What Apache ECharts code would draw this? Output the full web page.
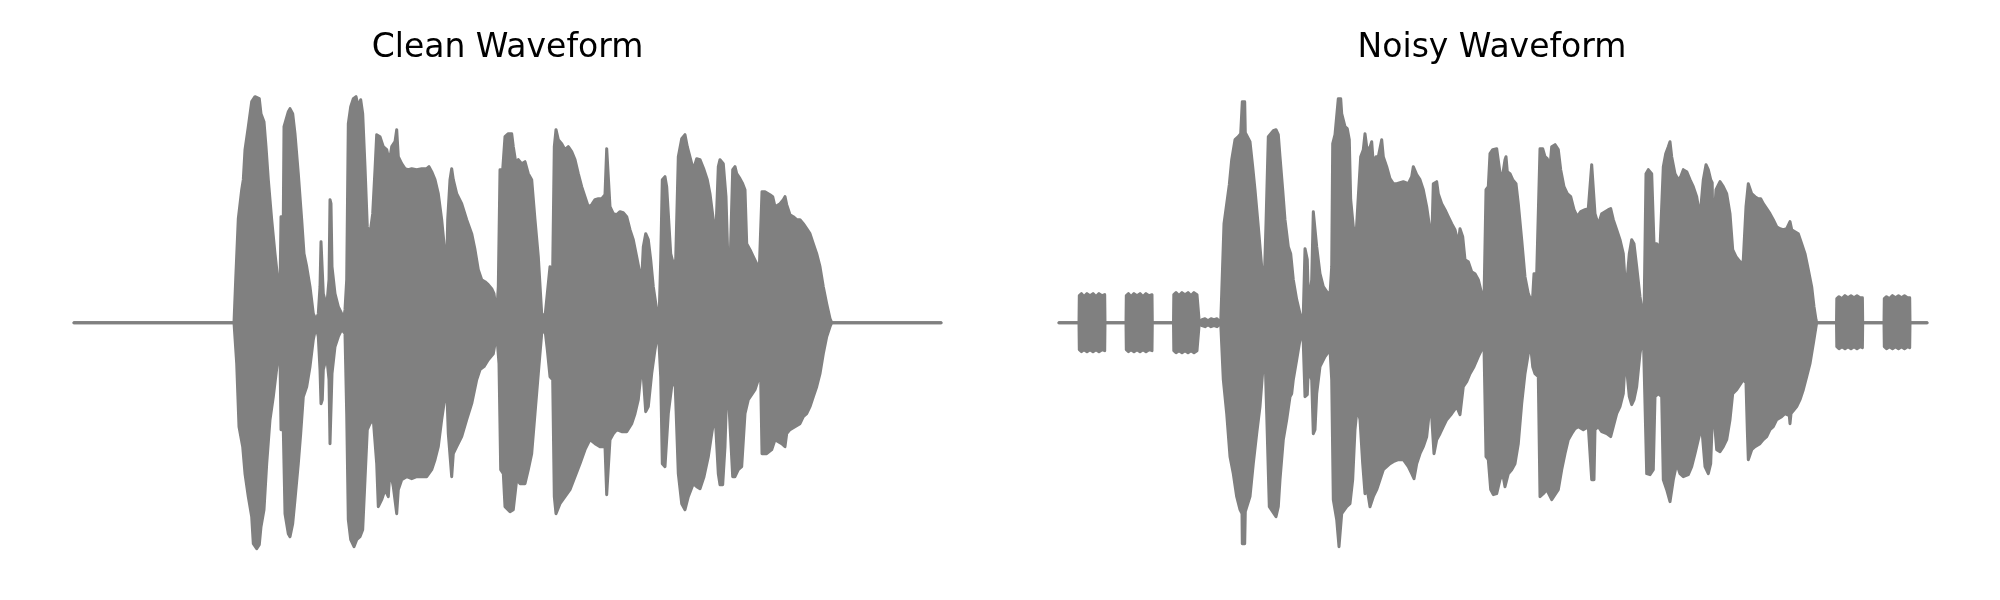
<!DOCTYPE html>
<html>
<head>
<meta charset="utf-8">
<script src="https://cdn.jsdelivr.net/npm/echarts@6/dist/echarts.min.js"></script>
<style>
  html, body { margin: 0; padding: 0; background: #ffffff; }
  #chart { width: 2000px; height: 600px; }
</style>
</head>
<body>
<div id="chart"></div>
<script>
// Panel titles
const titles = ["Clean Waveform", "Noisy Waveform"];

// Envelope of the clean waveform: [time index, amplitude] (arbitrary units)
const cleanUpper = [
[0,0],[160,0],[161.7,43],[164.3,104],[167.7,133],[169.3,143],[171,173],[174.3,196],[177.7,221],[181,226],[185.3,224],[187,209],[190,201],[192,176],[194.3,143],[197.7,103],[201,69],[204.3,39],[206,33],
[207,106],[209.3,106],[210,196],[214.3,211],[216,214],[218.7,209],[221,189],[224.3,149],[227.7,103],[230,69],[232.7,56],[236,36],[239.3,9],[242,3],[244.3,9],[246,36],[247,81],[248.3,79],[249.3,29],[252.7,16],[255,43],[256,123],[257,119],[258,56],[261,29],[264.3,16],[267.7,9],[270,6],[271,13],[272.7,43],[274.3,199],[276.7,216],[279.3,224],[282,226],[284.3,216],[286.7,223],[288.7,209],[291,156],[293.3,96],[296,89],[298.7,109],[301,153],[302.7,188],[306,186],[309.3,176],[312.7,173],[315.3,161],[317.7,176],[321,181],[322.7,193],[324.3,166],[327.7,159],[331,154],[334.3,153],[337.7,154],[342.7,153],[347.7,154],[352.7,154],[355,156],[357.7,151],[361,143],[364.3,129],[367.7,103],[371,69],[372.7,56],[373.7,103],[376,143],[377.7,154],[379.3,143],[382.7,129],[387.7,119],[392.7,103],[397.7,89],[401,73],[404.3,53],[407.7,43],[411,41],[414.3,38],[417.7,34],[420,29],[422.7,9],[424.3,36],[426,153],
[428.7,153],[431,186],[434.3,189],[437.7,189],[439.3,176],[442,159],[444.3,163],[447.7,159],[451,161],[454.3,149],[457.7,143],[461,103],[464.3,66],[467.7,9],[471,6],[473.3,29],[476,56],[478.7,53],[480.3,176],[482,193],[484.3,183],[487.7,179],[491,173],[494.3,176],[497.7,171],[501,163],[504.3,149],[507.7,136],[511,126],[514.3,116],[517.7,118],[521,123],[524.3,124],[527.7,124],[531,128],[532.7,174],[534.7,173],[536,116],[539.3,109],[542.7,108],[546,111],[549.3,110],[552.7,106],[556,93],[559.3,83],[562.7,66],[566,49],[567.7,43],[569.3,76],[571.7,89],[574.3,83],[576.7,63],[579.3,36],[582.7,13],[585,2],[586.7,63],[588.3,143],[591,146],[592.7,136],[594.3,109],[596.7,69],[599.3,59],[601.7,63],[604.3,166],[607.7,184],[611,188],[613.3,176],[616.7,163],[619.3,153],[622.7,164],[626,163],[630,153],[633.3,143],[636,129],[639.3,103],[642,93],[644.3,156],
[646,163],[649.3,159],[652,126],[654.3,49],[656,56],[658.7,153],[661,156],[662.7,149],[666,144],[668.7,139],[671,133],[672.7,79],[676,73],[679.3,66],[682.7,59],[685.3,54],[686.7,56],[688,131],[691,131],[696,128],[698.7,126],[701,116],[702.7,118],[706,119],[709.3,123],[711,126],[712.7,118],[716,108],[719.3,106],[722.7,103],[726,103],[729.3,99],[732.7,94],[736,89],[739.3,79],[742.7,69],[746,56],[749.3,36],[752.7,19],[756,4],[757.7,0],[867,0]
];

const cleanLower = [
[0,0],[160,0],[162.7,-41],[165,-104],[168.7,-124],[171,-151],[174.3,-174],[177.7,-194],[179.3,-221],[182.7,-226],[185.3,-222],[187,-204],[190,-187],[192.7,-141],[196,-97],[199.3,-74],[203.3,-41],[206,-34],
[207,-107],[209.3,-107],[211,-191],[214.3,-211],[216,-214],[218.7,-201],[221,-177],[224.3,-141],[226.7,-111],[229.3,-74],[232.7,-64],[236,-44],[239.3,-17],[242,-4],[244.3,-14],[246,-47],[247,-81],[248.3,-77],[249.3,-47],[252.7,-34],[255,-57],[256,-121],[257,-121],[258,-51],[261,-24],[264.3,-14],[267.7,-7],[271,-11],[272.7,-91],[274.3,-197],[276.7,-217],[280,-224],[282.7,-217],[286,-214],[288.7,-207],[291,-157],[293.3,-107],[296,-101],[299.3,-97],[302.7,-141],[304.3,-184],[307.7,-177],[311,-167],[314.3,-174],[316,-147],[319.3,-164],[322.7,-191],[324.3,-167],[327.7,-157],[332.7,-154],[337.7,-156],[342.7,-154],[347.7,-154],[352.7,-154],[357.7,-147],[361,-137],[364.3,-124],[367.7,-97],[371,-74],[372.7,-64],[374.3,-111],[377.7,-154],[379.3,-131],[382.7,-124],[387.7,-114],[392.7,-97],[397.7,-81],[402.7,-57],[406,-47],[410,-44],[414.3,-37],[419.3,-31],[422.7,-11],[425,-41],[426.7,-147],
[429.3,-151],[431,-184],[436,-189],[439.3,-187],[442.7,-157],[446,-161],[451,-161],[454.3,-147],[457.7,-131],[461,-91],[464.3,-51],[467.7,-11],[471,-7],[473.3,-27],[476,-54],[478.7,-57],[480.3,-174],[482,-191],[486,-181],[491,-174],[496,-167],[501,-154],[506,-141],[511,-127],[516,-117],[521,-121],[526,-124],[531,-124],[532.7,-172],[534.7,-172],[536,-117],[539.3,-111],[542.7,-107],[547.7,-109],[552.7,-109],[557.7,-101],[561,-91],[564.3,-77],[567.7,-44],[569.3,-54],[571.7,-89],[574.3,-84],[577.7,-51],[581,-27],[584.3,-7],[586.7,-54],[588.3,-141],[591,-144],[594.3,-91],[597.7,-64],[601,-57],[604.3,-151],[607.7,-181],[611,-187],[614.3,-174],[619.3,-161],[622.7,-164],[626,-166],[630,-154],[634.3,-134],[637.7,-111],[641,-91],[644.3,-151],
[646,-162],[648.7,-162],[651,-124],[653.3,-51],[655.3,-51],[658.7,-154],[661,-154],[664.3,-147],[667.7,-144],[671,-91],[674.3,-77],[677.7,-72],[681,-67],[684.3,-57],[686.7,-57],[688,-131],[692.7,-131],[697.7,-127],[701,-117],[704.3,-119],[707.7,-121],[711,-124],[712.7,-111],[716,-107],[721,-104],[726,-101],[729.3,-94],[732.7,-91],[736,-84],[739.3,-74],[742.7,-64],[746,-51],[749.3,-31],[752.7,-14],[756,-4],[757.7,0],[867,0]
];

// Envelope of the noisy waveform: [time index, amplitude] (arbitrary units)
const noisyUpper = [
[0,0],[20,0],[20.3,27],[22.5,29],[25,26],[28,29],[31,27],[34,29],[37,26],[40,29],[43,27],[45.7,28],[46,0],
[67,0],[67.3,27],[69.5,29],[72,26],[75,29],[78,27],[81,29],[84,26],[87,29],[90,27],[93,28],[93.3,0],
[114.5,0],[114.8,28],[117,30],[120,27],[123,30],[126,28],[129,30],[132,27],[135,30],[138,28],[140,29],[140.3,0],
[143,3],[146,4],[149,2],[152,4],[155,3],[158,4],[161.7,0],
[162.7,29],[165,99],[170.3,138],[172.7,163],[176,183],[179.3,186],[181.7,189],[183,190],[183.3,221],[185.7,221],[186.3,190],[187.7,189],[191,181],[193.7,156],[196,133],[199.3,96],[202.7,56],[205,33],[207,99],[209.3,186],
[211,186],[214.3,192],[217,193],[219.3,188],[221,166],[223.7,133],[226,103],[229.3,76],[231.7,69],[232.7,71],[234.3,43],[237.7,23],[241,9],[242.7,2],[244.3,9],[246,74],[248.3,63],[249.3,26],[251,29],[252.7,43],[254.3,111],[256,109],[257.7,76],[261,49],[264.3,36],[267.7,31],[271,28],[272.7,56],[273.7,179],[276,188],[279.3,224],[281.7,224],[282.7,209],[286,196],[288.3,194],[290.3,183],[291.7,123],[294.3,96],[297,86],[299.3,126],[301.7,166],[304.3,173],[306,189],[307.7,176],[310.3,173],[312.7,181],[314.3,159],[317,166],[319.3,166],[322.7,183],[324.3,166],[327.7,156],[331,144],[334.3,139],[337.7,139],[344.3,141],[349.3,139],[352.7,146],[354.3,156],[357.7,148],[361,143],[364.3,133],[367.7,116],[371,93],[372.7,79],[374.3,139],[377.7,141],[379.3,129],[382.7,119],[386,113],[389.3,106],[392.7,99],[396,93],[399.3,79],[401,94],[403.7,86],[406,63],[409.3,61],[412.7,51],[416,49],[419.3,43],[422.7,29],[425,23],[427,133],[429.3,136],[431,169],
[433.7,173],[437.7,174],[441,150],[443.7,148],[446,163],[447,166],[448.3,151],[451,149],[453.7,143],[457,139],[459.3,119],[462.7,83],[466,46],[469.3,29],[471.7,23],[473.7,26],[475,49],[477.7,49],[481,174],[483.7,174],[486,166],[488.3,164],[491,156],[492.7,176],[496,178],[499.3,173],[501.7,153],[505,136],[508.3,129],[511.7,126],[515,113],[518.3,106],[521.7,111],[526,113],[529.3,114],[532.7,158],[534.3,158],[536,109],[539.3,98],[542.7,109],[546,111],[549.3,113],[551.7,114],[554.3,103],[557.7,93],[561,83],[564.3,69],[566,43],[567.7,39],[570.3,69],[572.7,83],[575,79],[577.7,56],[581,26],[583.7,9],[585,6],[587,149],[589.3,153],[592.7,149],[595,79],[597.7,79],[601,74],[604.3,156],[606.7,169],[609.3,176],[611,181],[612.7,166],[616,149],[619.3,143],[621.7,146],[624.3,153],[627.7,151],[631,143],[634.3,136],[637.7,126],[641,106],[644.3,143],[647,158],[649.3,153],[651.7,143],[653.2,140],[654.3,63],[655.5,109],[657,133],[661,141],[664.3,136],[667.7,129],[671,109],[673.7,73],[677,66],[681,61],[682.7,56],[684.3,63],[687,116],[689.3,139],[692.7,129],[696,126],[699.3,124],[701.7,124],[704.3,119],[707.7,114],[711,109],[714.3,103],[717.7,96],[721,94],[724.3,93],[727.7,94],[731,101],[732.7,93],[736,91],[739.3,89],[742.7,79],[746,69],[749.3,53],[752.7,36],[755,16],[757,3],[757.7,0],
[777.5,0],[777.8,24],[780,26],[783,24],[786,27],[789,25],[792,27],[795,25],[798,27],[801,25],[803.4,25],[803.7,0],
[825,0],[825.3,24],[827.5,26],[830.5,24],[833.5,27],[836.5,25],[839.5,27],[842.5,25],[845.5,27],[848.5,25],[850.7,25],[851,0],[868,0]
];

const noisyLower = [
[0,0],[20,0],[20.3,-27],[22.5,-29],[25,-27],[28,-29],[31,-27],[34,-29],[37,-27],[40,-29],[43,-27],[45.7,-28],[46,0],
[67,0],[67.3,-27],[69.5,-29],[72,-27],[75,-29],[78,-27],[81,-29],[84,-27],[87,-29],[90,-27],[93,-28],[93.3,0],
[114.5,0],[114.8,-28],[117,-30],[120,-28],[123,-30],[126,-28],[129,-30],[132,-28],[135,-30],[138,-28],[140,-29],[140.3,0],
[143,-3],[146,-4],[149,-2],[152,-4],[155,-3],[158,-4],[161.7,0],
[164.3,-57],[167.7,-91],[171,-134],[174.3,-151],[177.7,-174],[181,-187],[183,-191],[183.3,-221],[185.7,-221],[186.3,-189],[187.7,-187],[191,-174],[194.3,-141],[197.7,-111],[201,-84],[204.3,-41],[206,-31],[207.7,-91],[210.3,-184],[214.3,-190],[217,-194],[219.3,-184],[221,-157],[224.3,-117],[227.7,-97],[231,-74],[232.7,-71],[234.3,-57],[237.7,-37],[241,-17],[242.7,-4],[244.3,-21],[246,-74],[248.3,-72],[249.3,-47],[252.7,-57],[254.3,-111],[256,-107],[257.7,-71],[261,-44],[266,-34],[271,-27],[272.7,-57],[274.3,-177],[277.7,-197],[280,-224],[281.7,-224],[282.7,-191],[287.7,-184],[291,-181],[293.7,-157],[296,-107],[298.3,-84],[301,-97],[303.7,-141],[306,-171],[308.3,-167],[311,-184],[314.3,-174],[317.7,-167],[321,-157],[324.3,-147],[327.7,-144],[331,-141],[334.3,-139],[339.3,-137],[344.3,-137],[349.3,-144],[352.7,-151],[355,-156],[357.7,-141],[361,-131],[364.3,-124],[367.7,-114],[371.7,-77],[373.3,-104],[375,-131],[377.7,-117],[381,-111],[384.3,-104],[387.7,-97],[392.7,-91],[397.7,-84],[401,-92],[404.3,-64],[407.7,-59],[411,-51],[415,-44],[419.3,-34],[422.7,-27],[425,-24],[427,-134],[429.3,-137],[431.7,-167],[434.3,-172],[437.7,-171],[441,-157],[443.7,-151],[446,-164],[447.7,-166],[449.3,-151],[452.7,-147],[456,-141],[459.3,-121],[462.7,-81],[466,-51],[469.3,-31],[471.7,-24],[473.7,-44],[476,-51],[479.3,-54],[481,-174],[484.3,-171],[487.7,-167],[492.7,-177],[496,-172],[499.3,-167],[502.7,-147],[506,-131],[509.3,-117],[512.7,-111],[516,-106],[519.3,-104],[524.3,-107],[529.3,-104],[532.7,-157],[535,-157],[536,-107],[539.3,-104],[542.7,-109],[547.7,-111],[551.7,-114],[554.3,-104],[557.7,-91],[561,-84],[564.3,-71],[566,-41],[567.7,-47],[570.3,-74],[572.7,-82],[575,-77],[577.7,-64],[581,-31],[584.3,-11],[586,-11],[587.7,-151],[591,-152],[594.3,-147],[596,-74],[599.3,-71],[602.7,-74],[604.3,-157],[607.7,-167],[611,-179],[614.3,-157],[617.7,-141],[621,-151],[624.3,-154],[629.3,-152],[632.7,-144],[636,-131],[639.3,-117],[642.7,-104],[646,-144],[649.3,-151],[651.7,-141],[653.7,-141],[654.3,-71],[655.5,-100],[657.7,-127],[661,-129],[664.3,-124],[667.7,-117],[671,-97],[673.7,-71],[677.7,-67],[681,-62],[684.3,-57],[687,-60],[688.3,-107],[689.3,-137],[692.7,-127],[696,-124],[701,-121],[704.3,-117],[707.7,-114],[711,-107],[714.3,-104],[717.7,-97],[722.7,-94],[726,-91],[730.3,-93],[731,-101],[732,-91],[737.7,-84],[741,-77],[744.3,-67],[747.7,-54],[751,-41],[754.3,-21],[757,-4],[757.7,0],
[777.5,0],[777.8,-24],[780,-26],[783,-24],[786,-26],[789,-24],[792,-26],[795,-24],[798,-26],[801,-24],[803.4,-25],[803.7,0],
[825,0],[825.3,-24],[827.5,-26],[830.5,-24],[833.5,-26],[836.5,-24],[839.5,-26],[842.5,-24],[845.5,-26],[848.5,-24],[850.7,-25],[851,0],[868,0]
];

const GRAY = '#808080';
const FONT = "'DejaVu Sans', 'Liberation Sans', sans-serif";

function envSeries(data, idx, origin) {
  return {
    type: 'line',
    xAxisIndex: idx,
    yAxisIndex: idx,
    data: data,
    showSymbol: false,
    symbol: 'none',
    clip: false,
    silent: true,
    lineStyle: { color: GRAY, width: 3, cap: 'round', join: 'round' },
    areaStyle: { color: GRAY, opacity: 1, origin: origin },
    z: 2
  };
}

const chart = echarts.init(document.getElementById('chart'), null, { renderer: 'canvas' });
chart.setOption({
  animation: false,
  backgroundColor: '#ffffff',
  title: [
    { text: titles[0], left: 507.5, top: 32, padding: 0, textAlign: 'center',
      textStyle: { fontFamily: FONT, fontSize: 33, fontWeight: 'normal', color: '#000000' } },
    { text: titles[1], left: 1492, top: 32, padding: 0, textAlign: 'center',
      textStyle: { fontFamily: FONT, fontSize: 33, fontWeight: 'normal', color: '#000000' } }
  ],
  grid: [
    { left: 74, width: 868, top: 72.67, height: 500 },
    { left: 1059, width: 868, top: 72.67, height: 500 }
  ],
  xAxis: [
    { type: 'value', gridIndex: 0, min: 0, max: 868, show: false },
    { type: 'value', gridIndex: 1, min: 0, max: 868, show: false }
  ],
  yAxis: [
    { type: 'value', gridIndex: 0, min: -250, max: 250, show: false },
    { type: 'value', gridIndex: 1, min: -250, max: 250, show: false }
  ],
  series: [
    envSeries(cleanUpper, 0, -1),
    envSeries(cleanLower, 0, 1),
    envSeries(noisyUpper, 1, -1),
    envSeries(noisyLower, 1, 1)
  ]
});
</script>
</body>
</html>
